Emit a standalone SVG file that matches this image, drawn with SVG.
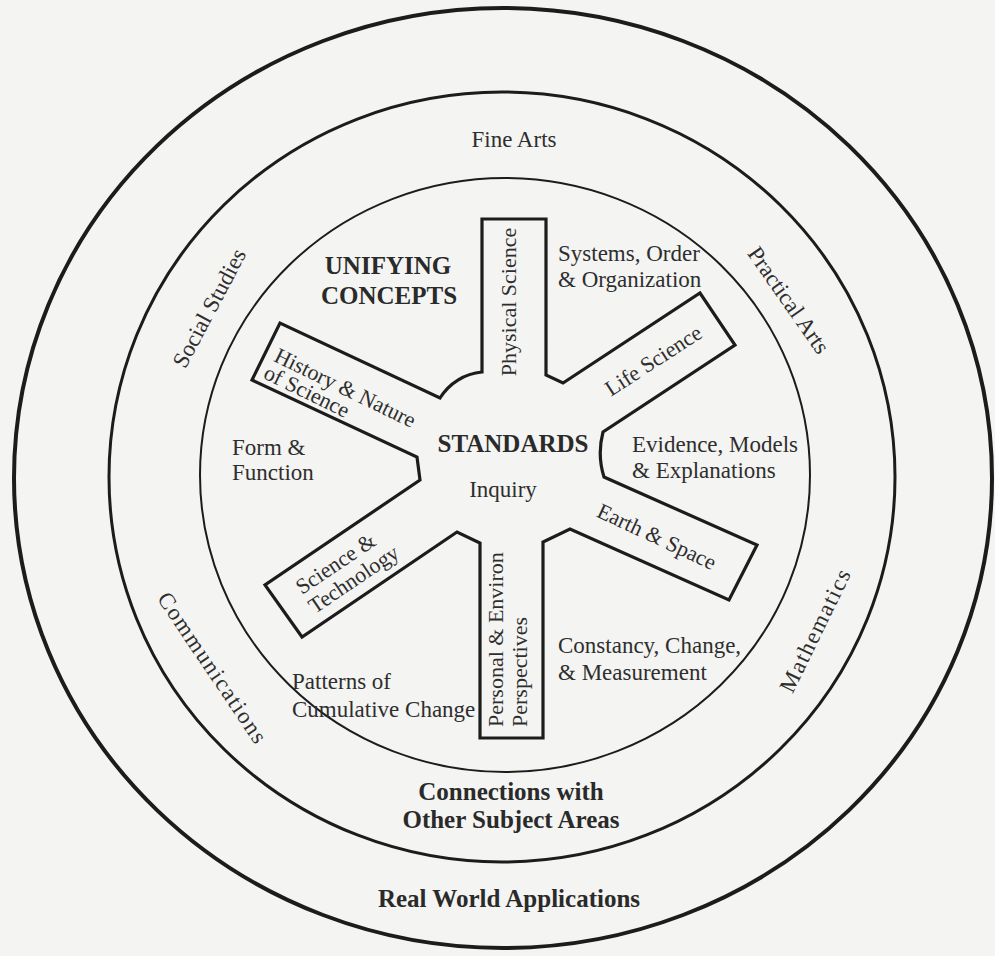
<svg xmlns="http://www.w3.org/2000/svg" width="995" height="956" viewBox="0 0 995 956">
<style>
.t{font-family:"Liberation Serif","Times New Roman",serif;font-size:23px;fill:#2e2e2e}
.a{font-family:"Liberation Serif","Times New Roman",serif;font-size:22px;fill:#2e2e2e}
.b{font-family:"Liberation Serif","Times New Roman",serif;font-size:25px;font-weight:bold;fill:#2a2a2a}
.ring{fill:none;stroke:#1c1c1c}
.arm{fill:none;stroke:#1c1c1c;stroke-width:3.2;stroke-linejoin:miter}
</style>
<rect width="995" height="956" fill="#f4f4f2"/>
<g id="ring-real-world">
<ellipse class="ring" cx="503" cy="478" rx="489" ry="470" stroke-width="4"/>
<text class="b" x="509" y="907" text-anchor="middle">Real World Applications</text>
</g>
<g id="ring-connections">
<ellipse class="ring" cx="502" cy="477" rx="393" ry="385" stroke-width="3"/>
<text class="b" x="511" y="800" text-anchor="middle">Connections with</text>
<text class="b" x="511" y="828" text-anchor="middle">Other Subject Areas</text>
<text class="t" x="514" y="147" text-anchor="middle" font-size="25">Fine Arts</text>
<text class="t" transform="translate(209,308) rotate(-62)" y="8" text-anchor="middle">Social Studies</text>
<text class="t" transform="translate(789,300) rotate(55)" y="8" text-anchor="middle">Practical Arts</text>
<text class="t" transform="translate(213,668) rotate(56)" y="8" text-anchor="middle" font-size="24" letter-spacing="1.5">Communications</text>
<text class="t" transform="translate(815,630) rotate(-64)" y="8" text-anchor="middle" font-size="24" letter-spacing="1.5">Mathematics</text>
</g>
<g id="ring-unifying">
<ellipse class="ring" cx="505" cy="475" rx="305" ry="297" stroke-width="2"/>
<text class="b" x="388" y="274" text-anchor="middle" font-size="24">UNIFYING</text>
<text class="b" x="389" y="304" text-anchor="middle" font-size="24">CONCEPTS</text>
<text class="t" x="558" y="261">Systems, Order</text>
<text class="t" x="558" y="287">&amp; Organization</text>
<text class="t" x="632" y="452">Evidence, Models</text>
<text class="t" x="632" y="478">&amp; Explanations</text>
<text class="t" x="558" y="653">Constancy, Change,</text>
<text class="t" x="558" y="680">&amp; Measurement</text>
<text class="t" x="292" y="689">Patterns of</text>
<text class="t" x="292" y="717">Cumulative Change</text>
<text class="t" x="232" y="455">Form &amp;</text>
<text class="t" x="232" y="480">Function</text>
</g>
<g id="standards">
<path class="arm" d="M482,372 L482,219 L546,219 L546,375 L563,383 L700,293 L735,345 L603,432 Q597,455 604,477 L757,545 L729,600 L570,529 L543,542 L543,738 L480,738 L480,543 L457,532 L302,637 L265,585 L420,480 L417,457 L252,380 L280,323 L440,398 A55,55 0 0 1 482,372 Z"/>
<text class="b" x="513" y="452" text-anchor="middle">STANDARDS</text>
<text class="t" x="503" y="497" text-anchor="middle" font-size="24">Inquiry</text>
</g>
<g id="arm-physical-science">
<text class="a" transform="translate(516,302) rotate(-90)" text-anchor="middle">Physical Science</text>
</g>
<g id="arm-life-science">
<text class="a" transform="translate(653,360) rotate(-33)" y="8" text-anchor="middle">Life Science</text>
</g>
<g id="arm-earth-space">
<text class="a" transform="translate(657,536) rotate(25)" y="8" text-anchor="middle">Earth &amp; Space</text>
</g>
<g id="arm-personal">
<text class="a" transform="translate(503,727) rotate(-90)">Personal &amp; Environ</text>
<text class="a" transform="translate(527,727) rotate(-90)">Perspectives</text>
</g>
<g id="arm-science-technology">
<g transform="translate(265,585) rotate(-34)">
<text class="a" x="25" y="29">Science &amp;</text>
<text class="a" x="25" y="52">Technology</text>
</g>
</g>
<g id="arm-history">
<g transform="translate(280,323) rotate(26)">
<text class="a" x="10" y="37">History &amp; Nature</text>
<text class="a" x="8" y="57">of Science</text>
</g>
</g>
</svg>
